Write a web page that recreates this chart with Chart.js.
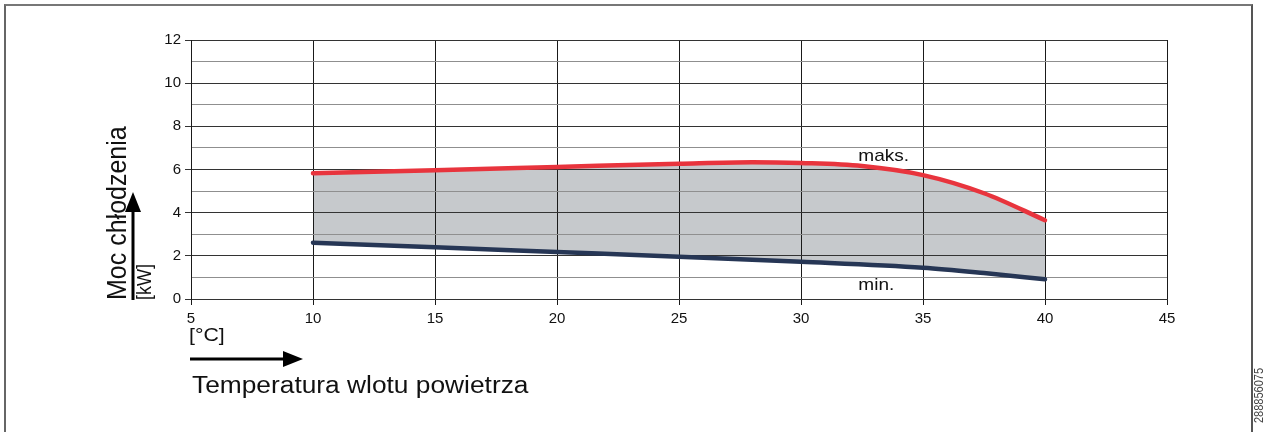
<!DOCTYPE html>
<html lang="pl">
<head>
<meta charset="utf-8">
<title>Moc chłodzenia</title>
<script src="https://cdn.jsdelivr.net/npm/chart.js@4.4.1/dist/chart.umd.min.js"></script>
<style>
  html, body { margin: 0; padding: 0; background: #fff; }
  #wrap { position: relative; width: 1264px; height: 432px; overflow: hidden; }
  #frame {
    position: absolute; left: 4px; top: 4px; width: 1249px; height: 440px;
    border-left: 2px solid #666; border-top: 2px solid #777; border-right: 2px solid #555;
    box-sizing: border-box; pointer-events: none;
  }
  canvas { position: absolute; left: 0; top: 0; }
</style>
</head>
<body>
<div id="wrap">
  <div id="frame"></div>
  <canvas id="capacityChart" width="1264" height="432"></canvas>
</div>
<script>
// operating envelope: cooling capacity vs. air inlet temperature
const maxTemp  = [10, 15, 20, 25, 28, 30, 32.5, 35, 37.5, 40];
const maxPower = [5.83, 5.97, 6.12, 6.27, 6.34, 6.3, 6.16, 5.74, 4.9, 3.65];
const minTemp  = [10, 15, 20, 25, 30, 35, 37.5, 40];
const minPower = [2.61, 2.4, 2.18, 1.96, 1.73, 1.45, 1.2, 0.91];

const xTicks = [5, 10, 15, 20, 25, 30, 35, 40, 45];
const yTicks = [0, 2, 4, 6, 8, 10, 12];

const FONT = "'Liberation Sans', Arial, sans-serif";
const STRETCH = 1.12;

function toPoints(xs, ys) {
  return xs.map((x, i) => ({ x: x, y: ys[i] }));
}

// horizontally widened text, optionally rotated
function drawText(ctx, text, x, y, size, opts) {
  opts = opts || {};
  ctx.save();
  ctx.translate(x, y);
  ctx.scale(STRETCH, 1);
  if (opts.rotate) ctx.rotate(opts.rotate);
  ctx.font = size + "px " + FONT;
  ctx.fillStyle = opts.color || "#111";
  ctx.textAlign = opts.align || "left";
  ctx.textBaseline = "alphabetic";
  ctx.fillText(text, 0, 0);
  ctx.restore();
}

function arrow(ctx, x1, y1, x2, y2) {
  const ang = Math.atan2(y2 - y1, x2 - x1);
  const headLen = 20, headHalf = 8;
  ctx.save();
  ctx.strokeStyle = "#000";
  ctx.fillStyle = "#000";
  ctx.lineWidth = 3;
  ctx.beginPath();
  ctx.moveTo(x1, y1);
  ctx.lineTo(x2 - Math.cos(ang) * (headLen - 2), y2 - Math.sin(ang) * (headLen - 2));
  ctx.stroke();
  ctx.translate(x2, y2);
  ctx.rotate(ang);
  ctx.beginPath();
  ctx.moveTo(0, 0);
  ctx.lineTo(-headLen, -headHalf);
  ctx.lineTo(-headLen, headHalf);
  ctx.closePath();
  ctx.fill();
  ctx.restore();
}

const decorations = {
  id: "decorations",
  afterDraw(chart) {
    const ctx = chart.ctx;
    const xs = chart.scales.x, ys = chart.scales.y;

    // axis titles
    drawText(ctx, "Moc chłodzenia", 126, 300, 25, { rotate: -Math.PI / 2 });
    drawText(ctx, "[kW]", 151, 300, 18, { rotate: -Math.PI / 2 });
    arrow(ctx, 133, 300, 133, 192);

    drawText(ctx, "[°C]", 189, 341, 19);
    arrow(ctx, 190, 359, 303, 359);
    drawText(ctx, "Temperatura wlotu powietrza", 192, 393, 23.5);

    // curve labels
    drawText(ctx, "maks.", xs.getPixelForValue(32.35), ys.getPixelForValue(6.4), 17);
    drawText(ctx, "min.", xs.getPixelForValue(32.35), ys.getPixelForValue(0.43), 17);

    // drawing number
    drawText(ctx, "288856075", 1263, 368, 11, { rotate: -Math.PI / 2, align: "right", color: "#444" });
  }
};

new Chart(document.getElementById("capacityChart"), {
  type: "line",
  data: {
    datasets: [
      {
        label: "maks.",
        data: toPoints(maxTemp, maxPower),
        borderColor: "#e8343d",
        borderWidth: 4.5,
        backgroundColor: "#c6c9cc",
        fill: "+1",
        pointRadius: 0,
        cubicInterpolationMode: "monotone",
        borderCapStyle: "round"
      },
      {
        label: "min.",
        data: toPoints(minTemp, minPower),
        borderColor: "#263655",
        borderWidth: 4.5,
        fill: false,
        pointRadius: 0,
        cubicInterpolationMode: "monotone",
        borderCapStyle: "round"
      }
    ]
  },
  options: {
    responsive: false,
    animation: false,
    layout: { padding: { left: 0, top: 40, right: 97, bottom: 0 } },
    plugins: {
      legend: { display: false },
      tooltip: { enabled: false },
      filler: { drawTime: "beforeDraw" }
    },
    scales: {
      x: {
        type: "linear",
        min: xTicks[0],
        max: xTicks[xTicks.length - 1],
        afterFit(scale) { scale.height = 133; },
        afterBuildTicks(scale) { scale.ticks = xTicks.map(v => ({ value: v })); },
        ticks: {
          font: { family: FONT, size: 15 },
          color: "#111",
          padding: 5,
          maxRotation: 0
        },
        grid: { color: "#1a1a1a", lineWidth: 1, tickLength: 6, tickColor: "#1a1a1a" },
        border: { color: "#333", width: 1 }
      },
      y: {
        min: yTicks[0],
        max: yTicks[yTicks.length - 1],
        afterFit(scale) { scale.width = 191; },
        ticks: {
          stepSize: 1,
          autoSkip: false,
          font: { family: FONT, size: 15 },
          color: "#111",
          padding: 4,
          callback: v => (yTicks.includes(v) ? v : "")
        },
        grid: {
          lineWidth: 1,
          tickLength: 6,
          color: c => (yTicks.includes(c.tick.value) ? "#333" : "#8f8f8f"),
          tickColor: c => (yTicks.includes(c.tick.value) ? "#333" : "rgba(0,0,0,0)")
        },
        border: { color: "#1a1a1a", width: 1 }
      }
    }
  },
  plugins: [decorations]
});
</script>
</body>
</html>
